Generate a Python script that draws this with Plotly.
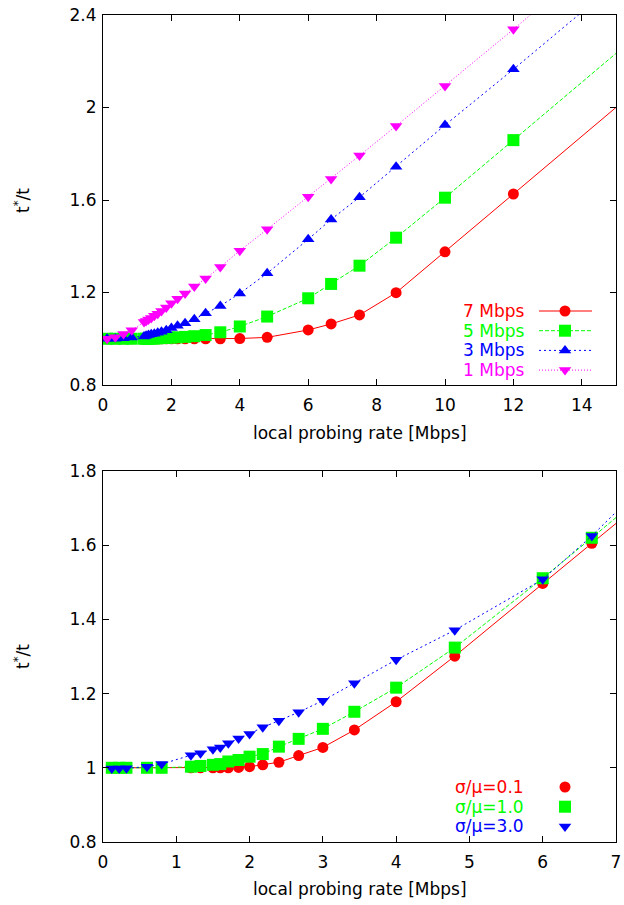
import plotly.graph_objects as go

W, H = 624, 905
FONT = "DejaVu Sans"
FS = 17

# ---------------- upper panel: cross-traffic rate ----------------
x_top = [0.12, 0.36, 0.6, 0.84, 1.2, 1.26, 1.33, 1.41, 1.5, 1.6, 1.71, 1.85,
         2.0, 2.18, 2.4, 2.67, 3.0, 3.43, 4.0, 4.8, 6.0, 6.67, 7.5, 8.57,
         10.0, 12.0, 16.0]
y_7mbps = [1.0, 1.0, 1.0, 1.0, 1.0, 1.0, 1.0, 1.0, 1.0, 1.0, 1.0, 1.0,
           1.0, 1.0, 1.0, 1.0, 1.0, 1.0, 1.001, 1.006, 1.038, 1.064, 1.103, 1.199,
           1.376, 1.626, 2.125]
y_5mbps = [1.0, 1.0, 1.0, 1.0, 1.0, 1.0, 1.0, 1.001, 1.001, 1.002, 1.003, 1.004,
           1.005, 1.006, 1.008, 1.011, 1.016, 1.028, 1.053, 1.096, 1.175, 1.237, 1.316, 1.437,
           1.610, 1.859, 2.359]
y_3mbps = [1.0, 1.0, 1.002, 1.005, 1.010, 1.013, 1.016, 1.019, 1.022, 1.026, 1.030, 1.037,
           1.046, 1.056, 1.067, 1.084, 1.110, 1.142, 1.196, 1.283, 1.430, 1.516, 1.612, 1.744,
           1.924, 2.165, 2.660]
y_1mbps = [1.0, 1.006, 1.021, 1.037, 1.072, 1.077, 1.083, 1.090, 1.099, 1.108, 1.120, 1.135,
           1.153, 1.173, 1.196, 1.226, 1.261, 1.310, 1.381, 1.473, 1.614, 1.691, 1.792, 1.920,
           2.093, 2.338, 2.840]
top_names = ["7 Mbps", "5 Mbps", "3 Mbps", "1 Mbps"]

# ---------------- lower panel: cross-traffic variability ----------------
x_bot = [0.12, 0.22, 0.32, 0.6, 0.8, 1.2, 1.33, 1.5, 1.6, 1.71, 1.85, 2.0,
         2.18, 2.4, 2.67, 3.0, 3.43, 4.0, 4.8, 6.0, 6.67, 7.5]
y_cv01 = [1.0, 1.0, 1.0, 1.0, 1.0, 1.0, 1.0, 1.0, 1.0, 1.0, 1.001, 1.003,
          1.008, 1.015, 1.033, 1.055, 1.102, 1.178, 1.301, 1.497, 1.605, 1.740]
y_cv10 = [1.0, 1.0, 1.0, 1.0, 1.0, 1.003, 1.005, 1.008, 1.010, 1.017, 1.021, 1.030,
          1.037, 1.057, 1.078, 1.105, 1.151, 1.216, 1.324, 1.511, 1.620, 1.757]
y_cv30 = [0.998, 0.998, 0.999, 1.003, 1.010, 1.034, 1.039, 1.050, 1.055, 1.066, 1.079, 1.091,
          1.109, 1.127, 1.150, 1.181, 1.228, 1.291, 1.371, 1.508, 1.625, 1.787]
bot_names = ["σ/μ=0.1", "σ/μ=1.0", "σ/μ=3.0"]

# series styles: colour, marker symbol, marker size, dash pattern
RED, GREEN, BLUE, MAGENTA = "#ff0000", "#00ff00", "#0000ff", "#ff00ff"
top_styles = [
    (RED, "circle", 11, "solid"),
    (GREEN, "square", 12, "4px,2px"),
    (BLUE, "triangle-up", 11, "2px,3px"),
    (MAGENTA, "triangle-down", 11, "1px,2px"),
]
bot_styles = top_styles[:2] + [(BLUE, "triangle-down", 11, "2px,3px")]

fig = go.Figure()

for name, ys, (col, sym, sz, dash) in zip(top_names, [y_7mbps, y_5mbps, y_3mbps, y_1mbps], top_styles):
    fig.add_trace(go.Scatter(
        x=x_top, y=ys, mode="lines+markers", name=name, showlegend=False,
        line=dict(color=col, width=1, dash=dash),
        marker=dict(color=col, symbol=sym, size=sz, line=dict(width=0)),
        xaxis="x", yaxis="y", cliponaxis=True))

for name, ys, (col, sym, sz, dash) in zip(bot_names, [y_cv01, y_cv10, y_cv30], bot_styles):
    fig.add_trace(go.Scatter(
        x=x_bot, y=ys, mode="lines+markers", name=name, showlegend=False,
        line=dict(color=col, width=1, dash=dash),
        marker=dict(color=col, symbol=sym, size=sz, line=dict(width=0)),
        xaxis="x2", yaxis="y2", cliponaxis=True))

# ---------------- keys, drawn on a full-page pixel axis ----------------
KEY_TXT_X = 526
KEY_LINE = (539, 592)
KEY_MARK_X = 565
key_top_y0, key_bot_y0, key_step = 311, 787, 19.7

annotations = []
for i, (name, (col, sym, sz, dash)) in enumerate(zip(top_names, top_styles)):
    yk = key_top_y0 + i * key_step
    annotations.append(dict(x=KEY_TXT_X, y=yk, xref="x3", yref="y3", text=name,
                            showarrow=False, xanchor="right", yanchor="middle",
                            font=dict(family=FONT, size=FS, color=col)))
    fig.add_trace(go.Scatter(
        x=[KEY_LINE[0], KEY_MARK_X, KEY_LINE[1]], y=[yk, yk, yk], mode="lines",
        line=dict(color=col, width=1, dash=dash), showlegend=False,
        xaxis="x3", yaxis="y3", hoverinfo="skip"))
    fig.add_trace(go.Scatter(
        x=[KEY_MARK_X], y=[yk], mode="markers", showlegend=False,
        marker=dict(color=col, symbol=sym, size=sz, line=dict(width=0)),
        xaxis="x3", yaxis="y3", hoverinfo="skip"))

for i, (name, (col, sym, sz, dash)) in enumerate(zip(bot_names, bot_styles)):
    yk = key_bot_y0 + i * key_step
    annotations.append(dict(x=KEY_TXT_X, y=yk, xref="x3", yref="y3", text=name,
                            showarrow=False, xanchor="right", yanchor="middle",
                            font=dict(family=FONT, size=FS, color=col)))
    fig.add_trace(go.Scatter(
        x=[KEY_MARK_X], y=[yk], mode="markers", showlegend=False,
        marker=dict(color=col, symbol=sym, size=sz, line=dict(width=0)),
        xaxis="x3", yaxis="y3", hoverinfo="skip"))

# axis titles
for yk in (433, 889):
    annotations.append(dict(x=359.5, y=yk, xref="x3", yref="y3",
                            text="local probing rate [Mbps]", showarrow=False,
                            xanchor="center", yanchor="middle",
                            font=dict(family=FONT, size=FS, color="black")))
for yk in (201, 657):
    annotations.append(dict(x=22, y=yk, xref="x3", yref="y3",
                            text="t<sup>*</sup>/t", showarrow=False, textangle=-90,
                            xanchor="center", yanchor="middle",
                            font=dict(family=FONT, size=FS, color="black")))

XDOM = [103 / W, 616 / W]
TOPDOM = [1 - 385 / H, 1 - 15 / H]
BOTDOM = [1 - 842 / H, 1 - 471 / H]

axis_common = dict(
    showgrid=False, zeroline=False, showline=True, linecolor="black", linewidth=1,
    mirror="ticks", ticks="inside", ticklen=6, tickwidth=1, tickcolor="black",
    tickfont=dict(family=FONT, size=FS, color="black"), automargin=False,
)
xaxis_common = dict(axis_common, ticklabelstandoff=5)
yaxis_common = dict(axis_common, ticklabelstandoff=2)

fig.update_layout(
    width=W, height=H,
    margin=dict(l=0, r=0, t=0, b=0),
    paper_bgcolor="white", plot_bgcolor="rgba(0,0,0,0)",
    showlegend=False,
    xaxis=dict(domain=XDOM, anchor="y", range=[0, 15], tick0=0, dtick=2, **xaxis_common),
    yaxis=dict(domain=TOPDOM, anchor="x", range=[0.8, 2.4], tick0=0.8, dtick=0.4, **yaxis_common),
    xaxis2=dict(domain=XDOM, anchor="y2", range=[0, 7], tick0=0, dtick=1, **xaxis_common),
    yaxis2=dict(domain=BOTDOM, anchor="x2", range=[0.8, 1.8], tick0=0.8, dtick=0.2, **yaxis_common),
    xaxis3=dict(domain=[0, 1], anchor="y3", range=[0, W], visible=False, fixedrange=True),
    yaxis3=dict(domain=[0, 1], anchor="x3", range=[H, 0], visible=False, fixedrange=True),
    annotations=annotations,
)

fig.write_html("out.html")
